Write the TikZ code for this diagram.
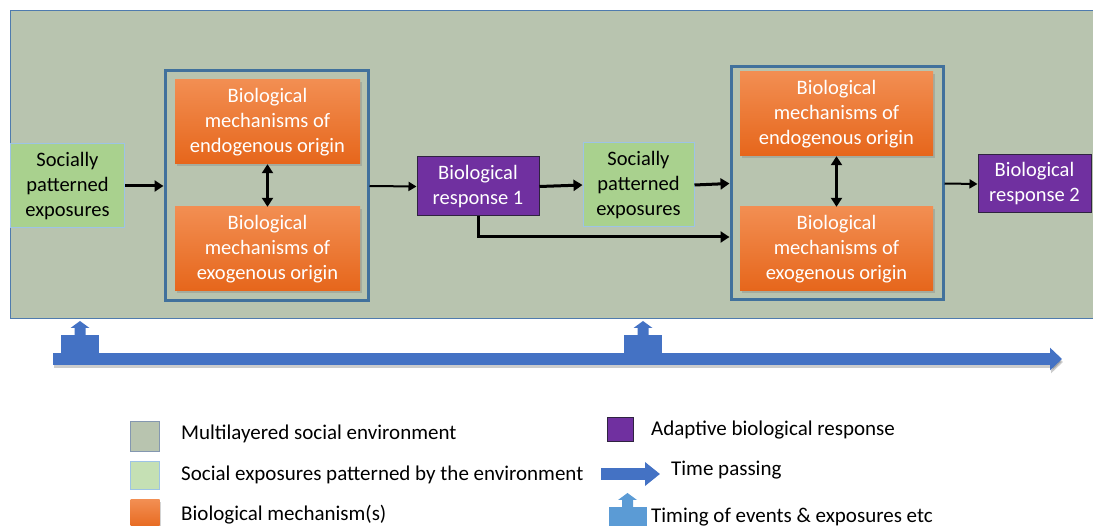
\documentclass[tikz,border=0pt]{standalone}
\usepackage{fontspec}
\setmainfont{Carlito}
\usetikzlibrary{arrows.meta,shadows}

\definecolor{envfill}{HTML}{B8C4AF}
\definecolor{envedge}{HTML}{4F7BAE}
\definecolor{socfill}{HTML}{A9D18E}
\definecolor{socedge}{HTML}{9DC3E6}
\definecolor{grpedge}{HTML}{41719C}
\definecolor{ortop}{HTML}{F28E52}
\definecolor{orbot}{HTML}{E6661B}
\definecolor{purpfill}{HTML}{7030A0}
\definecolor{purpedge}{HTML}{2F2340}
\definecolor{timeblue}{HTML}{4472C4}
\definecolor{legblue}{HTML}{5B9BD5}
\definecolor{legsoc}{HTML}{C5E0B4}
\definecolor{legedge}{HTML}{8497B0}

\tikzset{
  every node/.style={font=\fontsize{20.5}{25}\selectfont, inner sep=0pt, align=center},
  envbox/.style={draw=envedge, line width=1pt, fill=envfill},
  socbox/.style={draw=socedge, line width=1pt, fill=socfill},
  grpbox/.style={draw=grpedge, line width=3pt},
  mechbox/.style={top color=ortop, bottom color=orbot, text=white,
    drop shadow={shadow xshift=1.5pt, shadow yshift=-2pt, opacity=.35}},
  respbox/.style={draw=purpedge, line width=1pt, fill=purpfill, text=white},
  link/.style={line width=3pt, -{Triangle[width=11pt,length=9pt]}},
  thinlink/.style={line width=2pt, -{Triangle[width=9pt,length=8pt]}},
  twoway/.style={line width=3pt, {Triangle[width=11pt,length=9pt]}-{Triangle[width=11pt,length=9pt]}},
  timeline/.style={line width=12pt, draw=timeblue, -{Triangle[width=22pt,length=12pt]}},
  legtext/.style={anchor=west, font=\fontsize{21}{25}\selectfont}
}

% up arrow marker: x centre, top of body, colour
\newcommand\timingmark[3]{%
  \fill[#3] (#1-19,#2) rectangle (#1+19,#2+28);
  \fill[#3] (#1-5.5,#2+1) -- (#1-5.5,#2-7) -- (#1-9.5,#2-7) -- (#1,#2-14)
    -- (#1+9.5,#2-7) -- (#1+5.5,#2-7) -- (#1+5.5,#2+1) -- cycle;}

\begin{document}
\begin{tikzpicture}[x=1pt,y=-1pt]
\useasboundingbox (0,0) rectangle (1093,526);

% social environment
\node[envbox, minimum width=1086pt, minimum height=308pt] (env) at (553.5,165) {};

% first round
\node[socbox, minimum width=114pt, minimum height=84pt] (soc1) at (67.5,186) {Socially\\patterned\\exposures};
\node[grpbox, minimum width=203pt, minimum height=230pt] (grp1) at (266.5,186) {};
\node[mechbox, minimum width=185pt, minimum height=84pt] (endo1) at (267.5,122) {Biological\\mechanisms of\\endogenous origin};
\node[mechbox, minimum width=185pt, minimum height=84pt] (exo1) at (267.5,249) {Biological\\mechanisms of\\exogenous origin};
\node[respbox, minimum width=122pt, minimum height=59pt] (resp1) at (478,186.5) {Biological\\response 1};

% second round
\node[socbox, minimum width=111pt, minimum height=84pt] (soc2) at (638.5,185) {Socially\\patterned\\exposures};
\node[grpbox, minimum width=212pt, minimum height=233pt] (grp2) at (837,183.5) {};
\node[mechbox, minimum width=193pt, minimum height=84pt] (endo2) at (836.5,114) {Biological\\mechanisms of\\endogenous origin};
\node[mechbox, minimum width=193pt, minimum height=84pt] (exo2) at (836.5,249) {Biological\\mechanisms of\\exogenous origin};
\node[respbox, minimum width=113pt, minimum height=58pt] (resp2) at (1034.5,184) {Biological\\response 2};

\draw[link] (soc1.east) -- (grp1.west);
\draw[twoway] (endo1.south) -- (exo1.north);
\draw[thinlink] (grp1.east) -- (resp1.west);
\draw[link] (resp1.east) -- (soc2.west);
\coordinate (lane) at (0,237);
\draw[link] (resp1.south) |- (lane -| grp2.west);
\draw[link] (soc2.east) -- (grp2.west);
\draw[twoway] (endo2.south) -- (exo2.north);
\draw[thinlink] (grp2.east) -- (resp2.west);

% time passing
\coordinate (t0) at (53,359);
\coordinate (t1) at (1062,359);
\draw[timeline, draw=black, opacity=.2] ([shift={(1,3)}]t0) -- ([shift={(1,3)}]t1);
\draw[timeline] (t0) -- (t1);
\foreach \tx in {80,643}
  \timingmark{\tx}{335}{timeblue};

% legend
\node[envbox, draw=legedge, minimum width=29pt, minimum height=30pt] (lg1) at (145,437) {};
\node[legtext] (lgt1) at (181,434) {Multilayered social environment};
\node[socbox, fill=legsoc, minimum width=29pt, minimum height=28pt] (lg2) at (145,476) {};
\node[legtext] (lgt2) at (181,475) {Social exposures patterned by the environment};
\node[mechbox, drop shadow={opacity=0}, minimum width=29pt, minimum height=30pt] (lg3) at (145,515) {};
\node[legtext] (lgt3) at (181,515) {Biological mechanism(s)};
\node[respbox, minimum width=26pt, minimum height=24pt] (lg4) at (620,430) {};
\node[legtext] (lgt4) at (651,430) {Adaptive biological response};
\coordinate (lg5a) at (601,474);
\coordinate (lg5b) at (660,474);
\draw[timeline, -{Triangle[width=23pt,length=15pt]}] (lg5a) -- (lg5b);
\node[legtext] (lgt5) at (671,470) {Time passing};
\timingmark{627.5}{507}{legblue}
\node[legtext] (lgt6) at (651,517) {Timing of events \& exposures etc};
\end{tikzpicture}
\end{document}
